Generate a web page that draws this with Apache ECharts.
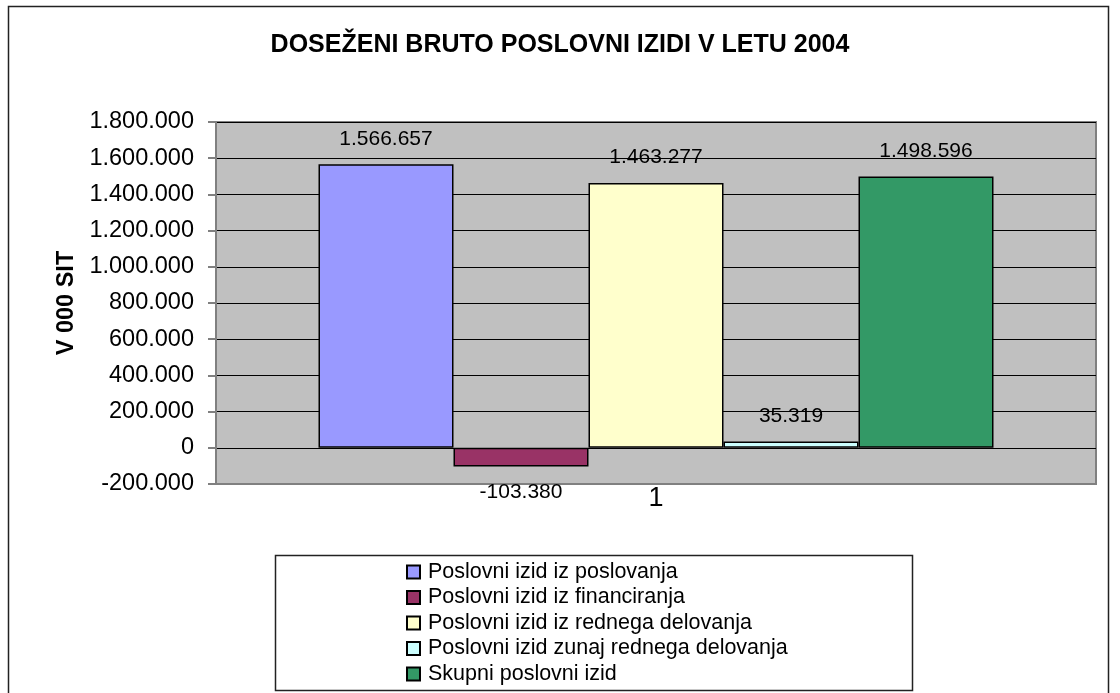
<!DOCTYPE html>
<html>
<head>
<meta charset="utf-8">
<script src="https://cdn.jsdelivr.net/npm/echarts@6/dist/echarts.min.js"></script>
<style>
  html, body { margin: 0; padding: 0; background: #fff; }
  #chart { width: 1120px; height: 693px; }
</style>
</head>
<body>
<div id="chart"></div>
<script>
// data
var categories = ["1"];
var seriesNames = [
  "Poslovni izid iz poslovanja",
  "Poslovni izid iz financiranja",
  "Poslovni izid iz rednega delovanja",
  "Poslovni izid zunaj rednega delovanja",
  "Skupni poslovni izid"
];
var seriesValues = [1566657, -103380, 1463277, 35319, 1498596];
var yMin = -200000;
var yMax = 1800000;
var yStep = 200000;

var colors = ["#9999FF", "#993366", "#FFFFCC", "#CCFFFF", "#339966"];
var font = "Liberation Sans, Arial, sans-serif";

function fmt(v) {
  var s = String(Math.abs(v)).replace(/\B(?=(\d{3})+(?!\d))/g, ".");
  return (v < 0 ? "-" : "") + s;
}

var chart = echarts.init(document.getElementById("chart"));

var option = {
  backgroundColor: "#fff",
  animation: false,
  title: {
    text: "DOSEŽENI BRUTO POSLOVNI IZIDI V LETU 2004",
    left: "center",
    top: 33,
    padding: 0,
    textStyle: { fontFamily: font, fontSize: 25, fontWeight: "bold", color: "#000" }
  },
  grid: {
    left: 216,
    right: 24,
    top: 122,
    bottom: 209,
    show: true,
    backgroundColor: "#C0C0C0",
    borderColor: "#808080",
    borderWidth: 2
  },
  legend: {
    orient: "vertical",
    left: 406,
    top: 561,
    height: 130,
    padding: 0,
    itemWidth: 13,
    itemHeight: 13,
    itemGap: 3.5,
    icon: "rect",
    textStyle: { fontFamily: font, fontSize: 21.5, color: "#000", lineHeight: 21, padding: [0, 0, 0, 3] },
    data: seriesNames
  },
  xAxis: {
    type: "category",
    data: categories,
    axisLine: { onZero: false, lineStyle: { color: "#808080", width: 2 } },
    axisTick: { show: false },
    axisLabel: { fontFamily: font, fontSize: 27, color: "#000", margin: 1 }
  },
  yAxis: {
    type: "value",
    min: yMin,
    max: yMax,
    interval: yStep,
    name: "V 000 SIT",
    nameLocation: "middle",
    nameGap: 124,
    nameTextStyle: { fontFamily: font, fontSize: 23.5, fontWeight: "bold", color: "#000" },
    axisLine: { show: true, lineStyle: { color: "#808080", width: 2 } },
    axisTick: { show: true, length: 8, lineStyle: { color: "#808080", width: 2 } },
    axisLabel: {
      fontFamily: font, fontSize: 23.5, color: "#000", margin: 22,
      formatter: function (v) { return fmt(v); }
    },
    splitLine: { show: true, lineStyle: { color: "#000", width: 1 } }
  },
  graphic: [
    {
      type: "rect",
      silent: true,
      z: -1,
      shape: { x: 8.5, y: 6.5, width: 1100, height: 720 },
      style: { fill: null, stroke: "#222", lineWidth: 1.5 }
    },
    {
      type: "rect",
      silent: true,
      z: -1,
      shape: { x: 275.5, y: 555.5, width: 637, height: 135 },
      style: { fill: "#fff", stroke: "#222", lineWidth: 1.5 }
    }
  ],
  series: seriesNames.map(function (name, i) {
    var v = seriesValues[i];
    return {
      name: name,
      type: "bar",
      barWidth: 135,
      barGap: "0%",
      itemStyle: { color: colors[i], borderColor: "#000", borderWidth: 1.5 },
      label: {
        show: true,
        position: v < 0 ? "bottom" : "top",
        distance: 15,
        fontFamily: font,
        fontSize: 21,
        color: "#000",
        formatter: function (p) { return fmt(p.value); }
      },
      data: [v]
    };
  })
};

chart.setOption(option);
window.addEventListener("resize", function () {
  chart.resize();
});
</script>
</body>
</html>
